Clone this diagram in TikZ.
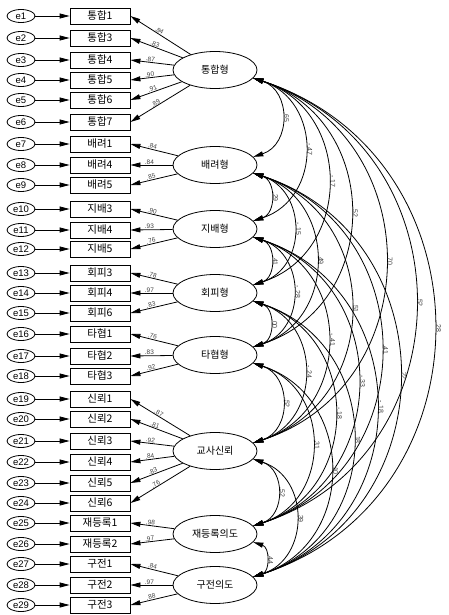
\documentclass[tikz,border=0pt]{standalone}
\usepackage{fontspec}
\setmainfont{Liberation Sans}
\newfontfamily\kr{Noto Sans CJK KR}
\usepackage{tikz}
\usetikzlibrary{shapes.geometric, arrows.meta}

\tikzset{
  errnode/.style={draw, ellipse, line width=0.8pt, minimum width=28pt, minimum height=13pt, inner sep=0pt, font=\fontsize{9.5}{10}\selectfont},
  itembox/.style={draw, rectangle, line width=0.8pt, minimum width=60pt, minimum height=16pt, inner sep=0pt, font=\kr\fontsize{10.5}{11}\selectfont},
  latent/.style={draw, ellipse, line width=0.8pt, minimum width=84pt, minimum height=37pt, inner sep=0pt, font=\kr\fontsize{10}{11}\selectfont},
  arr/.style={-{Triangle[length=10pt, width=5pt]}, line width=0.8pt},
  covarr/.style={{Triangle[length=10pt, width=5pt]}-{Triangle[length=10pt, width=5pt]}, line width=0.8pt},
  ldlbl/.style={sloped, above, pos=0.55, inner sep=0.5pt, font=\fontsize{6.5}{7}\selectfont, text=black!75},
  covlbl/.style={rotate=-90, anchor=south, pos=0.5, inner sep=2pt, font=\fontsize{7}{8}\selectfont, text=black!75}
}

\begin{document}
\begin{tikzpicture}[x=1pt, y=-1pt]
  \useasboundingbox (0,0) rectangle (449,615);

  % Latent factors
  \node[latent] (integ) at (215,70) {통합형};
  \node[latent] (oblig) at (215,165) {배려형};
  \node[latent] (domin) at (215,229) {지배형};
  \node[latent] (avoid) at (215,293) {회피형};
  \node[latent] (compr) at (215,355) {타협형};
  \node[latent] (trust) at (215,451) {교사신뢰};
  \node[latent] (reenrol) at (215,534) {재등록의도};
  \node[latent] (wom) at (215,585) {구전의도};

  % Items of 통합형
  \node[errnode] (e1) at (21,16) {e1}; \node[itembox] (i1) at (100,16) {통합1}; \draw[arr] (e1) -- (i1); \draw[arr] (integ) -- node[ldlbl] {.84} (i1.east);
  \node[errnode] (e2) at (21,38) {e2}; \node[itembox] (i2) at (100,38) {통합3}; \draw[arr] (e2) -- (i2); \draw[arr] (integ) -- node[ldlbl] {.83} (i2.east);
  \node[errnode] (e3) at (21,60) {e3}; \node[itembox] (i3) at (100,60) {통합4}; \draw[arr] (e3) -- (i3); \draw[arr] (integ) -- node[ldlbl] {.87} (i3.east);
  \node[errnode] (e4) at (21,80) {e4}; \node[itembox] (i4) at (100,80) {통합5}; \draw[arr] (e4) -- (i4); \draw[arr] (integ) -- node[ldlbl] {.90} (i4.east);
  \node[errnode] (e5) at (21,100) {e5}; \node[itembox] (i5) at (100,100) {통합6}; \draw[arr] (e5) -- (i5); \draw[arr] (integ) -- node[ldlbl] {.91} (i5.east);
  \node[errnode] (e6) at (21,122) {e6}; \node[itembox] (i6) at (100,122) {통합7}; \draw[arr] (e6) -- (i6); \draw[arr] (integ) -- node[ldlbl] {.89} (i6.east);

  % Items of 배려형
  \node[errnode] (e7) at (21,144) {e7}; \node[itembox] (i7) at (100,144) {배려1}; \draw[arr] (e7) -- (i7); \draw[arr] (oblig) -- node[ldlbl] {.84} (i7.east);
  \node[errnode] (e8) at (21,165) {e8}; \node[itembox] (i8) at (100,165) {배려4}; \draw[arr] (e8) -- (i8); \draw[arr] (oblig) -- node[ldlbl] {.84} (i8.east);
  \node[errnode] (e9) at (21,185) {e9}; \node[itembox] (i9) at (100,185) {배려5}; \draw[arr] (e9) -- (i9); \draw[arr] (oblig) -- node[ldlbl] {.85} (i9.east);

  % Items of 지배형
  \node[errnode] (e10) at (21,209) {e10}; \node[itembox] (i10) at (100,209) {지배3}; \draw[arr] (e10) -- (i10); \draw[arr] (domin) -- node[ldlbl] {.90} (i10.east);
  \node[errnode] (e11) at (21,230) {e11}; \node[itembox] (i11) at (100,230) {지배4}; \draw[arr] (e11) -- (i11); \draw[arr] (domin) -- node[ldlbl] {.93} (i11.east);
  \node[errnode] (e12) at (21,249) {e12}; \node[itembox] (i12) at (100,249) {지배5}; \draw[arr] (e12) -- (i12); \draw[arr] (domin) -- node[ldlbl] {.76} (i12.east);

  % Items of 회피형
  \node[errnode] (e13) at (21,273) {e13}; \node[itembox] (i13) at (100,273) {회피3}; \draw[arr] (e13) -- (i13); \draw[arr] (avoid) -- node[ldlbl] {.78} (i13.east);
  \node[errnode] (e14) at (21,293) {e14}; \node[itembox] (i14) at (100,293) {회피4}; \draw[arr] (e14) -- (i14); \draw[arr] (avoid) -- node[ldlbl] {.97} (i14.east);
  \node[errnode] (e15) at (21,313) {e15}; \node[itembox] (i15) at (100,313) {회피6}; \draw[arr] (e15) -- (i15); \draw[arr] (avoid) -- node[ldlbl] {.83} (i15.east);

  % Items of 타협형
  \node[errnode] (e16) at (21,334) {e16}; \node[itembox] (i16) at (100,334) {타협1}; \draw[arr] (e16) -- (i16); \draw[arr] (compr) -- node[ldlbl] {.76} (i16.east);
  \node[errnode] (e17) at (21,356) {e17}; \node[itembox] (i17) at (100,356) {타협2}; \draw[arr] (e17) -- (i17); \draw[arr] (compr) -- node[ldlbl] {.83} (i17.east);
  \node[errnode] (e18) at (21,376) {e18}; \node[itembox] (i18) at (100,376) {타협3}; \draw[arr] (e18) -- (i18); \draw[arr] (compr) -- node[ldlbl] {.92} (i18.east);

  % Items of 교사신뢰
  \node[errnode] (e19) at (21,399) {e19}; \node[itembox] (i19) at (100,399) {신뢰1}; \draw[arr] (e19) -- (i19); \draw[arr] (trust) -- node[ldlbl] {.87} (i19.east);
  \node[errnode] (e20) at (21,419) {e20}; \node[itembox] (i20) at (100,419) {신뢰2}; \draw[arr] (e20) -- (i20); \draw[arr] (trust) -- node[ldlbl] {.81} (i20.east);
  \node[errnode] (e21) at (21,441) {e21}; \node[itembox] (i21) at (100,441) {신뢰3}; \draw[arr] (e21) -- (i21); \draw[arr] (trust) -- node[ldlbl] {.92} (i21.east);
  \node[errnode] (e22) at (21,462) {e22}; \node[itembox] (i22) at (100,462) {신뢰4}; \draw[arr] (e22) -- (i22); \draw[arr] (trust) -- node[ldlbl] {.84} (i22.east);
  \node[errnode] (e23) at (21,483) {e23}; \node[itembox] (i23) at (100,483) {신뢰5}; \draw[arr] (e23) -- (i23); \draw[arr] (trust) -- node[ldlbl] {.83} (i23.east);
  \node[errnode] (e24) at (21,503) {e24}; \node[itembox] (i24) at (100,503) {신뢰6}; \draw[arr] (e24) -- (i24); \draw[arr] (trust) -- node[ldlbl] {.76} (i24.east);

  % Items of 재등록의도
  \node[errnode] (e25) at (21,523) {e25}; \node[itembox] (i25) at (100,523) {재등록1}; \draw[arr] (e25) -- (i25); \draw[arr] (reenrol) -- node[ldlbl] {.98} (i25.east);
  \node[errnode] (e26) at (21,544) {e26}; \node[itembox] (i26) at (100,544) {재등록2}; \draw[arr] (e26) -- (i26); \draw[arr] (reenrol) -- node[ldlbl] {.97} (i26.east);

  % Items of 구전의도
  \node[errnode] (e27) at (21,564) {e27}; \node[itembox] (i27) at (100,564) {구전1}; \draw[arr] (e27) -- (i27); \draw[arr] (wom) -- node[ldlbl] {.84} (i27.east);
  \node[errnode] (e28) at (21,585) {e28}; \node[itembox] (i28) at (100,585) {구전2}; \draw[arr] (e28) -- (i28); \draw[arr] (wom) -- node[ldlbl] {.97} (i28.east);
  \node[errnode] (e29) at (21,605) {e29}; \node[itembox] (i29) at (100,605) {구전3}; \draw[arr] (e29) -- (i29); \draw[arr] (wom) -- node[ldlbl] {.88} (i29.east);

  % Covariances
  \draw[covarr] (integ.-12) to[bend left=72, looseness=1.3] node[covlbl] {.65} (oblig.12);
  \draw[covarr] (integ.-12) to[bend left=72, looseness=1.3] node[covlbl] {-.47} (domin.12);
  \draw[covarr] (integ.-12) to[bend left=72, looseness=1.3] node[covlbl] {-.17} (avoid.12);
  \draw[covarr] (integ.-12) to[bend left=72, looseness=1.3] node[covlbl] {.52} (compr.12);
  \draw[covarr] (integ.-12) to[bend left=72, looseness=1.3] node[covlbl] {.70} (trust.12);
  \draw[covarr] (integ.-12) to[bend left=72, looseness=1.3] node[covlbl] {.52} (reenrol.12);
  \draw[covarr] (integ.-12) to[bend left=72, looseness=1.3] node[covlbl] {.28} (wom.12);

  \draw[covarr] (oblig.-12) to[bend left=72, looseness=1.3] node[covlbl] {.29} (domin.12);
  \draw[covarr] (oblig.-12) to[bend left=72, looseness=1.3] node[covlbl] {-.15} (avoid.12);
  \draw[covarr] (oblig.-12) to[bend left=72, looseness=1.3] node[covlbl] {.49} (compr.12);
  \draw[covarr] (oblig.-12) to[bend left=72, looseness=1.3] node[covlbl] {.51} (trust.12);
  \draw[covarr] (oblig.-12) to[bend left=72, looseness=1.3] node[covlbl] {.41} (reenrol.12);
  \draw[covarr] (oblig.-12) to[bend left=72, looseness=1.3] node[covlbl] {.22} (wom.12);

  \draw[covarr] (domin.-12) to[bend left=72, looseness=1.3] node[covlbl] {.41} (avoid.12);
  \draw[covarr] (domin.-12) to[bend left=72, looseness=1.3] node[covlbl] {-.28} (compr.12);
  \draw[covarr] (domin.-12) to[bend left=72, looseness=1.3] node[covlbl] {-.41} (trust.12);
  \draw[covarr] (domin.-12) to[bend left=72, looseness=1.3] node[covlbl] {-.33} (reenrol.12);
  \draw[covarr] (domin.-12) to[bend left=72, looseness=1.3] node[covlbl] {-.18} (wom.12);

  \draw[covarr] (avoid.-12) to[bend left=72, looseness=1.3] node[covlbl] {.00} (compr.12);
  \draw[covarr] (avoid.-12) to[bend left=72, looseness=1.3] node[covlbl] {-.24} (trust.12);
  \draw[covarr] (avoid.-12) to[bend left=72, looseness=1.3] node[covlbl] {-.18} (reenrol.12);
  \draw[covarr] (avoid.-12) to[bend left=72, looseness=1.3] node[covlbl] {.18} (wom.12);

  \draw[covarr] (compr.-12) to[bend left=72, looseness=1.3] node[covlbl] {.52} (trust.12);
  \draw[covarr] (compr.-12) to[bend left=72, looseness=1.3] node[covlbl] {.31} (reenrol.12);
  \draw[covarr] (compr.-12) to[bend left=72, looseness=1.3] node[covlbl] {.10} (wom.12);

  \draw[covarr] (trust.-12) to[bend left=72, looseness=1.3] node[covlbl] {.52} (reenrol.12);
  \draw[covarr] (trust.-12) to[bend left=72, looseness=1.3] node[covlbl] {.39} (wom.12);

  \draw[covarr] (reenrol.-12) to[bend left=72, looseness=1.3] node[covlbl] {.44} (wom.12);
\end{tikzpicture}
\end{document}
